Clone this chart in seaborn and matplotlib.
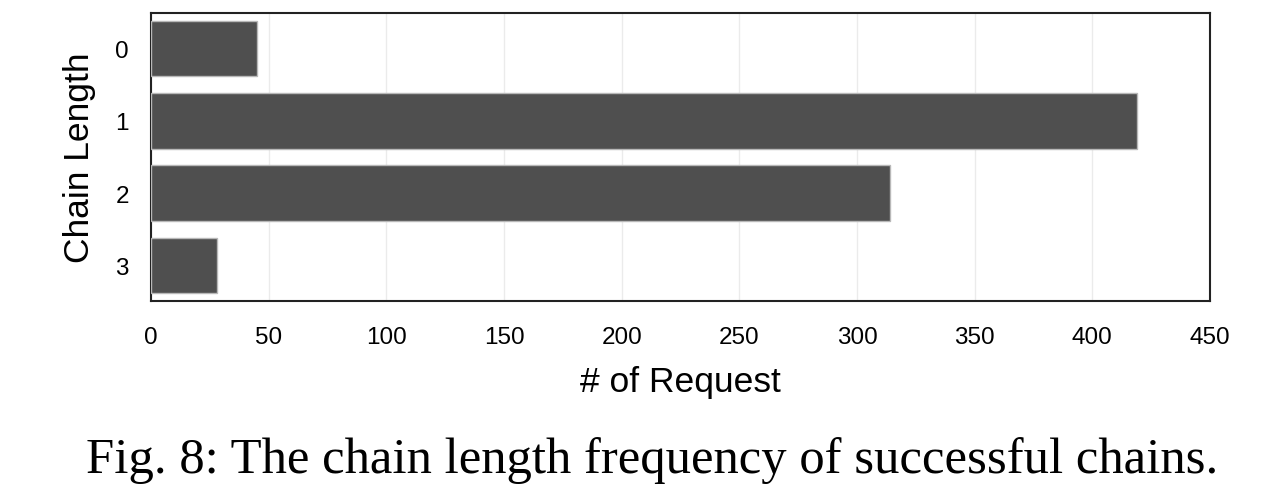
import matplotlib
matplotlib.use("Agg")
import matplotlib.pyplot as plt
import seaborn as sns
import pandas as pd

chain_lengths = ["0", "1", "2", "3"]
requests = [45, 419, 314, 28]
x_ticks = [0, 50, 100, 150, 200, 250, 300, 350, 400, 450]

sns.set_theme(style="white")
plt.rcParams['font.family'] = ['Liberation Sans', 'DejaVu Sans']

df = pd.DataFrame({"Chain Length": chain_lengths, "Requests": requests})

fig = plt.figure(figsize=(12.73, 4.89), dpi=100)
ax = fig.add_axes([0.1186, 0.3824, 0.9505 - 0.1186, 0.9714 - 0.3824])

sns.barplot(data=df, y="Chain Length", x="Requests", orient="h", order=chain_lengths,
            color="#4f4f4f", saturation=1, width=0.77, edgecolor="#b8b8b8",
            linewidth=1.0, ax=ax, zorder=3)

ax.set_xlim(0, 450)
ax.set_ylim(3.49, -0.49)
ax.set_xticks(x_ticks)
ax.set_xticklabels([str(t) for t in x_ticks])
ax.grid(axis="x", color="#ebebeb", linewidth=1.0, zorder=0)
ax.grid(axis="y", visible=False)
ax.set_axisbelow(True)

for s in ax.spines.values():
    s.set_visible(True)
    s.set_color("#222222")
    s.set_linewidth(1.5)

ax.tick_params(axis="x", length=0, pad=18, labelsize=17.5, labelcolor="black")
ax.tick_params(axis="y", length=0, pad=16, labelsize=17.5, labelcolor="black")

ax.set_xlabel("# of Request", fontsize=25.5, labelpad=12, color="black")
ax.set_ylabel("Chain Length", fontsize=25.5, labelpad=14, color="black")

fig.text(0.512, 0.033, "Fig. 8: The chain length frequency of successful chains.",
         ha="center", va="baseline", fontsize=36.5,
         family=["Liberation Serif", "DejaVu Serif"], color="black")

fig.savefig("out.png", dpi=100, facecolor="white")
